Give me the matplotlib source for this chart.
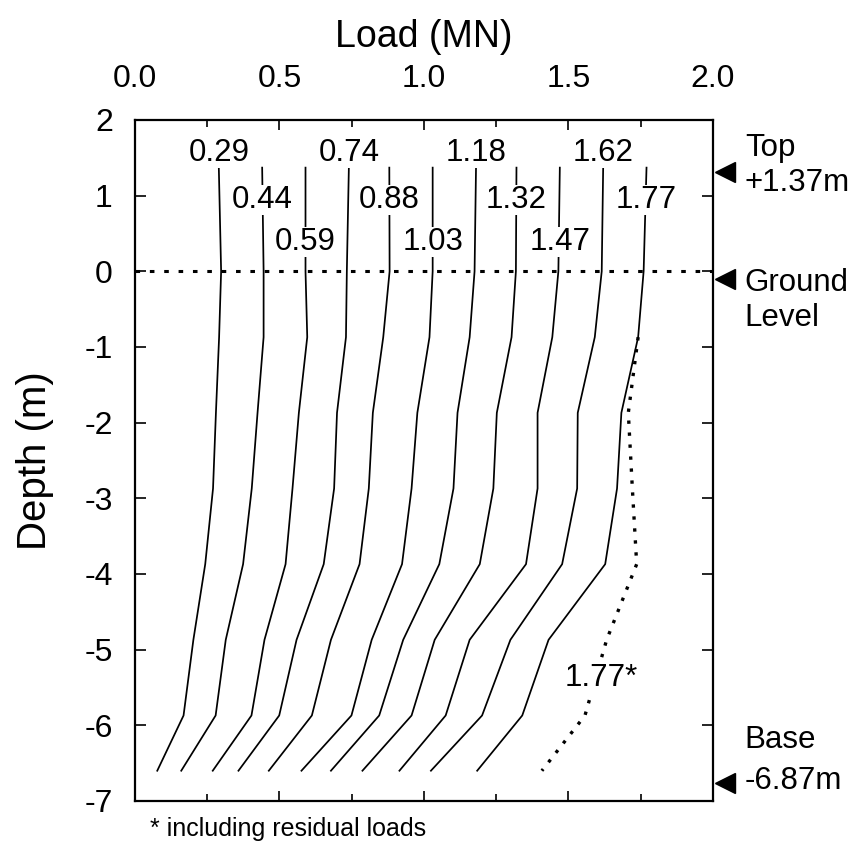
import numpy as np
import matplotlib
matplotlib.use('Agg')
import matplotlib.pyplot as plt
from matplotlib.ticker import MultipleLocator

plt.rcParams['font.family'] = ['Liberation Sans', 'DejaVu Sans']

# gauge depths (m), pile top at +1.37 down to the deepest gauge
depth = [1.37, 0.0, -0.87, -1.87, -2.87, -3.87, -4.87, -5.87, -6.6]

# load distributions (MN), one per applied head load
labels = ['0.29', '0.44', '0.59', '0.74', '0.88', '1.03',
          '1.18', '1.32', '1.47', '1.62', '1.77']
loads = [
    [0.29, 0.298, 0.291, 0.280, 0.270, 0.243, 0.202, 0.168, 0.077],
    [0.44, 0.445, 0.445, 0.424, 0.404, 0.374, 0.314, 0.279, 0.160],
    [0.59, 0.590, 0.596, 0.567, 0.545, 0.521, 0.448, 0.403, 0.269],
    [0.74, 0.733, 0.730, 0.699, 0.689, 0.653, 0.559, 0.499, 0.358],
    [0.88, 0.881, 0.859, 0.823, 0.809, 0.777, 0.678, 0.612, 0.463],
    [1.03, 1.030, 1.019, 0.977, 0.957, 0.924, 0.819, 0.749, 0.576],
    [1.18, 1.175, 1.158, 1.116, 1.102, 1.053, 0.928, 0.845, 0.678],
    [1.32, 1.318, 1.303, 1.252, 1.240, 1.193, 1.037, 0.957, 0.787],
    [1.47, 1.465, 1.444, 1.393, 1.393, 1.353, 1.158, 1.075, 0.915],
    [1.62, 1.615, 1.591, 1.532, 1.530, 1.478, 1.299, 1.201, 1.024],
    [1.77, 1.760, 1.741, 1.683, 1.668, 1.627, 1.431, 1.340, 1.184],
]
# label rows (depth of the text) for each curve
label_row = [1.57, 0.94, 0.39, 1.57, 0.94, 0.39, 1.57, 0.94, 0.39, 1.57, 0.94]

# last load step with residual loads included
res_depth = [-0.87, -1.87, -2.87, -3.87, -4.87, -5.87, -6.6]
res_load = [1.741, 1.707, 1.721, 1.736, 1.632, 1.557, 1.408]

fig = plt.figure(figsize=(8.55, 8.46), dpi=100)
ax = fig.add_axes([0.1579, 0.0532, 0.676, 0.805])

for q in loads:
    ax.plot(q, depth, color='black', lw=1.25, zorder=2)

for lab, q, yr in zip(labels, loads, label_row):
    ax.text(float(lab), yr, lab, ha='center', va='center', fontsize=22.5,
            zorder=4, bbox=dict(boxstyle='square,pad=0', fc='white', ec='none'))

ax.plot(res_load, res_depth, color='black', lw=2.4, ls=(0, (1, 2.6)), zorder=2)
ax.text(1.612, -5.37, '1.77*', ha='center', va='center', fontsize=22.5,
        zorder=4, bbox=dict(boxstyle='square,pad=0', fc='white', ec='none'))

# ground level
ax.axhline(0, color='black', lw=2.2, ls=(0, (1.5, 3.2)), zorder=3)

ax.set_xlim(0, 2)
ax.set_ylim(-7, 2)
ax.xaxis.set_major_locator(MultipleLocator(0.5))
ax.xaxis.set_minor_locator(MultipleLocator(0.25))
ax.yaxis.set_major_locator(MultipleLocator(1))
ax.xaxis.set_major_formatter(lambda v, p: f'{v:.1f}')
ax.yaxis.set_major_formatter(lambda v, p: f'{v:.0f}')
ax.xaxis.set_label_position('top')
ax.tick_params(which='both', direction='in', top=True, bottom=True,
               left=True, right=True, labeltop=True, labelbottom=False,
               width=1.2, labelsize=23)
ax.tick_params(axis='x', which='major', length=7, pad=19)
ax.tick_params(axis='x', which='minor', length=5)
ax.tick_params(axis='y', which='major', length=8, pad=16)
for s in ax.spines.values():
    s.set_linewidth(1.6)

ax.set_xlabel('Load (MN)', fontsize=27, labelpad=12)
ax.set_ylabel('Depth (m)', fontsize=29, labelpad=22)

# pile reference levels on the right
ax.plot([2.042] * 3, [1.31, -0.10, -6.76], ls='none', marker='<',
        ms=14.4, color='black', clip_on=False)
side = [('Top', 1.63), ('+1.37m', 1.17), ('Ground', -0.155),
        ('Level', -0.62), ('Base', -6.19), ('-6.87m', -6.74)]
for t, yy in side:
    ax.text(2.11, yy, t, ha='left', va='center', fontsize=22.5, clip_on=False)

fig.text(150 / 855, 1 - 829 / 846, '* including residual loads',
         ha='left', va='center', fontsize=18)

fig.savefig('out.png', dpi=100)
